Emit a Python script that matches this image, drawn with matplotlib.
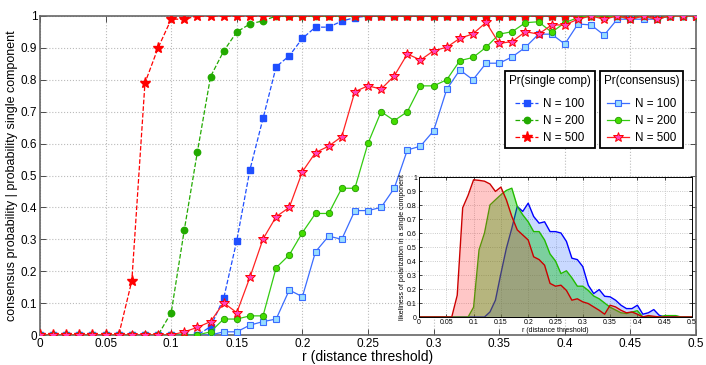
import numpy as np
import matplotlib
matplotlib.use("Agg")
import matplotlib.pyplot as plt

plt.rcParams['font.family'] = ['Liberation Sans', 'DejaVu Sans']

r = np.round(np.arange(0, 0.505, 0.01), 2)

single_100 = [0]*13 + [0.026, 0.115, 0.296, 0.518, 0.679, 0.841, 0.875, 0.930, 0.965, 0.965, 0.984, 0.995] + [1]*26
single_200 = [0]*10 + [0.07, 0.33, 0.575, 0.81, 0.89, 0.95, 0.975, 0.985] + [1]*33
single_500 = [0]*7 + [0.17, 0.79, 0.90, 0.99, 0.99] + [1]*39

cons_100 = [0]*14 + [0.01, 0.01, 0.031, 0.042, 0.05, 0.141, 0.12, 0.261, 0.31, 0.30, 0.39, 0.39, 0.40,
                     0.46, 0.58, 0.592, 0.64, 0.77, 0.831, 0.80, 0.852, 0.852, 0.872, 0.902, 0.943,
                     0.943, 0.912, 0.975, 0.972, 0.94, 0.99, 0.99, 0.99, 0.99, 1, 1, 1]
cons_200 = [0]*13 + [0.01, 0.05, 0.05, 0.06, 0.06, 0.211, 0.251, 0.321, 0.381, 0.381, 0.46, 0.46,
                     0.601, 0.70, 0.672, 0.70, 0.781, 0.781, 0.80, 0.86, 0.87, 0.902, 0.943, 0.951,
                     0.979, 0.982, 0.949, 0.979, 0.995, 1, 0.995, 1, 0.99, 1, 0.99, 1, 1, 1]
cons_500 = [0]*11 + [0.01, 0.024, 0.042, 0.101, 0.07, 0.181, 0.301, 0.371, 0.40, 0.512, 0.572, 0.592,
                     0.622, 0.763, 0.781, 0.771, 0.812, 0.881, 0.862, 0.891, 0.902, 0.930, 0.944, 0.98,
                     0.914, 0.92, 0.951, 0.943, 0.972, 0.972, 0.99, 1, 0.99, 1, 0.99, 1, 0.99, 1, 1, 1]

pol_500 = [0]*7 + [0.155, 0.78, 0.87, 0.98, 0.976, 0.97, 0.95, 0.897, 0.928, 0.837, 0.718, 0.622, 0.586,
                   0.55, 0.43, 0.41, 0.37, 0.24, 0.22, 0.227, 0.19, 0.12, 0.13, 0.108, 0.096, 0.072,
                   0.048, 0.02, 0.084, 0.072, 0.048, 0.03, 0.036, 0.02, 0, 0.01, 0.005] + [0]*7
pol_200 = [0]*10 + [0.07, 0.48, 0.6, 0.80, 0.837, 0.873, 0.904, 0.92, 0.79, 0.73, 0.68, 0.61, 0.61,
                    0.55, 0.45, 0.40, 0.31, 0.33, 0.28, 0.22, 0.22, 0.19, 0.15, 0.13, 0.10, 0.07, 0.05,
                    0.03, 0.025, 0.035, 0.045, 0.0, 0.005, 0, 0, 0.01, 0.01, 0.01, 0, 0, 0]
pol_100 = [0]*13 + [0.036, 0.12, 0.31, 0.49, 0.634, 0.79, 0.754, 0.813, 0.718, 0.67, 0.68, 0.61, 0.61,
                    0.6, 0.54, 0.42, 0.41, 0.36, 0.227, 0.167, 0.196, 0.148, 0.144, 0.12, 0.084, 0.06,
                    0.06, 0.084, 0.02, 0.03, 0.053, 0.012, 0, 0, 0.005, 0, 0, 0]

x_ticks = [0, 0.05, 0.1, 0.15, 0.2, 0.25, 0.3, 0.35, 0.4, 0.45, 0.5]
x_ticklabels = ['0', '0.05', '0.1', '0.15', '0.2', '0.25', '0.3', '0.35', '0.4', '0.45', '0.5']
y_ticks = [0, 0.1, 0.2, 0.3, 0.4, 0.5, 0.6, 0.7, 0.8, 0.9, 1]
y_ticklabels = ['0', '0.1', '0.2', '0.3', '0.4', '0.5', '0.6', '0.7', '0.8', '0.9', '1']

fig = plt.figure(figsize=(7.06, 3.65), dpi=100)
ax = fig.add_axes([40/706, 1-335/365, 656/706, 319/365])

c_b1, c_g1, c_r1 = '#1f4fff', '#22aa00', '#ff0000'
c_b2, c_g2, c_r2 = '#3a6cff', '#33cc11', '#ff2222'

h1 = ax.plot(r, single_100, '--', color=c_b1, lw=0.9, marker='s', ms=3.8, mfc=c_b1, mec=c_b1, label='N = 100', zorder=3)[0]
h2 = ax.plot(r, single_200, '--', color=c_g1, lw=0.9, marker='o', ms=4.6, mfc=c_g1, mec=c_g1, label='N = 200', zorder=3)[0]
h3 = ax.plot(r, single_500, '--', color=c_r1, lw=0.9, marker='*', ms=8, mfc=c_r1, mec=c_r1, label='N = 500', zorder=3)[0]

h4 = ax.plot(r, cons_100, '-', color=c_b2, lw=0.9, marker='s', ms=4, mfc='#99ddff', mec=c_b2, mew=0.8, label='N = 100', zorder=4)[0]
h5 = ax.plot(r, cons_200, '-', color=c_g2, lw=0.9, marker='o', ms=4.6, mfc='#44dd00', mec='#229900', mew=0.6, label='N = 200', zorder=4)[0]
h6 = ax.plot(r, cons_500, '-', color=c_r2, lw=0.9, marker='*', ms=7, mfc='#ff44bb', mec='#ff0000', mew=0.7, label='N = 500', zorder=4)[0]

ax.set_xlim(0, 0.5)
ax.set_ylim(0, 1)
ax.set_xticks(x_ticks)
ax.set_xticklabels(x_ticklabels)
ax.set_yticks(y_ticks)
ax.set_yticklabels(y_ticklabels)
ax.tick_params(direction='in', length=4, width=0.6, labelsize=8.5, top=True, right=True,
               colors='#333333', pad=2)
ax.tick_params(labelcolor='black')
ax.grid(True, linestyle=':', color='#bbbbbb', linewidth=0.8)
for s in ax.spines.values():
    s.set_color('#666666')
    s.set_linewidth(1.2)
ax.set_xlabel('r (distance threshold)', fontsize=10, labelpad=0)
ax.set_ylabel('consensus probability | probability single component', fontsize=9, labelpad=2)

leg_kw = dict(loc='upper left', fontsize=8.4, title_fontsize=8.4, fancybox=False,
              edgecolor='black', framealpha=1, handlelength=1.9, borderpad=0.35,
              labelspacing=0.42, handletextpad=0.5, borderaxespad=0)
leg1 = ax.legend(handles=[h1, h2, h3], title='Pr(single comp)', bbox_to_anchor=(0.709, 0.828), **leg_kw)
leg1.get_frame().set_linewidth(1.3)
leg1._legend_box.sep = 8
ax.add_artist(leg1)
leg2 = ax.legend(handles=[h4, h5, h6], title='Pr(consensus)', bbox_to_anchor=(0.853, 0.828), **leg_kw)
leg2.get_frame().set_linewidth(1.3)
leg2._legend_box.sep = 8

# inset
axi = fig.add_axes([419/706, 1-317/365, 273/706, 140/365])
axi.fill_between(r, 0, pol_100, color='#2a6aff', alpha=0.25, lw=0, zorder=2)
axi.plot(r, pol_100, color='#0000ff', lw=1, zorder=2)
axi.fill_between(r, 0, pol_200, color='#00c000', alpha=0.38, lw=0, zorder=2)
axi.plot(r, pol_200, color='#22bb00', lw=1, zorder=2)
axi.fill_between(r, 0, pol_500, color='#ff2020', alpha=0.25, lw=0, zorder=2)
axi.plot(r, pol_500, color='#cc0000', lw=1, zorder=2)
axi.set_xlim(0, 0.5)
axi.set_ylim(0, 1)
axi.set_xticks(x_ticks)
axi.set_xticklabels(x_ticklabels)
axi.set_yticks(y_ticks)
axi.set_yticklabels(y_ticklabels)
axi.tick_params(direction='in', length=2.5, width=0.5, labelsize=5, top=True, right=True, pad=1.5)
axi.grid(True, linestyle=':', color='#bbbbbb', linewidth=0.6)
for s in axi.spines.values():
    s.set_linewidth(0.7)
axi.set_xlabel('r (distance threshold)', fontsize=5, labelpad=0.5)
axi.set_ylabel('likeliness of polarization in a single component', fontsize=5, labelpad=1)

fig.savefig('out.png', dpi=100)
